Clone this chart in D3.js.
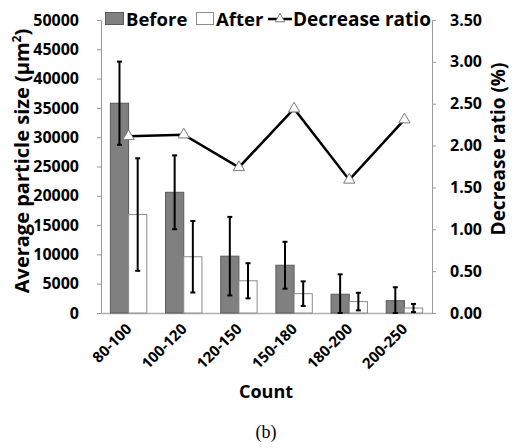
<!DOCTYPE html>
<html>
<head>
<meta charset="utf-8">
<script src="https://cdn.jsdelivr.net/npm/d3@7"></script>
<style>
  body { margin: 0; background: #fff; }
  svg text { font-family: "Open Sans", Lato, sans-serif; font-weight: 700; fill: #000; }
</style>
</head>
<body>
<div id="chart"></div>
<script>
var categories = ["80-100", "100-120", "120-150", "150-180", "180-200", "200-250"];
var before = [35800, 20600, 9700, 8150, 3200, 2100];
var beforeErr = [7100, 6300, 6700, 4000, 3400, 2300];
var after = [16800, 9600, 5500, 3300, 1950, 850];
var afterErr = [9600, 6100, 3000, 2100, 1500, 700];
var ratio = [2.11, 2.13, 1.74, 2.44, 1.59, 2.31];
var leftTicks = [0, 5000, 10000, 15000, 20000, 25000, 30000, 35000, 40000, 45000, 50000];
var rightTicks = [0, 0.5, 1, 1.5, 2, 2.5, 3, 3.5];

var width = 528, height = 448;
var margin = {top: 20, right: 96, bottom: 135, left: 101};
var chartWidth = 432 - margin.left;
var chartHeight = 313 - margin.top;

var svg = d3.select('#chart').append('svg')
    .attr('width', width)
    .attr('height', height);

var g = svg.append('g')
    .attr('transform', `translate(${margin.left}, ${margin.top})`);

var xScale = d3.scaleBand().domain(categories).range([0, chartWidth]).paddingInner(0.34).paddingOuter(0.17);
var yScale = d3.scaleLinear().domain([0, 50000]).range([chartHeight, 0]);
var yRight = d3.scaleLinear().domain([0, 3.5]).range([chartHeight, 0]);
var bw = xScale.bandwidth() / 2;

// axes
var yAxis = d3.axisLeft(yScale).tickValues(leftTicks).tickSize(4).tickPadding(20).tickFormat(d3.format('d'));
var yAxisR = d3.axisRight(yRight).tickValues(rightTicks).tickSize(4).tickPadding(14).tickFormat(d3.format('.2f'));

function styleAxis(sel) {
  sel.attr('font-family', null);
  sel.select('.domain').attr('stroke', '#9a9a9a');
  sel.selectAll('.tick line').attr('stroke', '#9a9a9a');
  sel.selectAll('.tick text').style('font-size', '16px');
}

g.append('g').attr('class', 'y axis').call(yAxis).call(styleAxis)
  .selectAll('.tick text').attr('x', -22);
g.append('g').attr('class', 'y axis right').attr('transform', `translate(${chartWidth},0)`).call(yAxisR).call(styleAxis);

g.append('line')
  .attr('x1', 0).attr('x2', chartWidth)
  .attr('y1', chartHeight + 0.5).attr('y2', chartHeight + 0.5)
  .attr('stroke', '#b0b0b0').attr('stroke-width', 1.5);

// bars
g.selectAll('rect.before')
  .data(before)
  .enter().append('rect')
  .attr('class', 'before')
  .attr('x', function(d, i) { return xScale(categories[i]); })
  .attr('y', function(d) { return yScale(d); })
  .attr('width', bw)
  .attr('height', function(d) { return chartHeight - yScale(d); })
  .attr('fill', '#808080')
  .attr('stroke', '#5a5a5a')
  .attr('stroke-width', 1);

g.selectAll('rect.after')
  .data(after)
  .enter().append('rect')
  .attr('class', 'after')
  .attr('x', function(d, i) { return xScale(categories[i]) + bw; })
  .attr('y', function(d) { return yScale(d); })
  .attr('width', bw)
  .attr('height', function(d) { return chartHeight - yScale(d); })
  .attr('fill', '#fff')
  .attr('stroke', '#8c8c8c')
  .attr('stroke-width', 1);

// error bars
function errorBars(vals, errs, offset) {
  var eg = g.append('g');
  vals.forEach(function(v, i) {
    var cx = xScale(categories[i]) + offset;
    var top = yScale(v + errs[i]);
    var bot = yScale(Math.max(0, v - errs[i]));
    eg.append('line').attr('x1', cx).attr('x2', cx).attr('y1', top).attr('y2', bot)
      .attr('stroke', '#000').attr('stroke-width', 2);
    [top, bot].forEach(function(y) {
      eg.append('line').attr('x1', cx - 2.5).attr('x2', cx + 2.5).attr('y1', y).attr('y2', y)
        .attr('stroke', '#000').attr('stroke-width', 2);
    });
  });
}
errorBars(before, beforeErr, bw / 2);
errorBars(after, afterErr, bw * 1.5);

// ratio line
var line = d3.line()
  .x(function(d, i) { return xScale(categories[i]) + bw; })
  .y(function(d) { return yRight(d); });

g.append('path')
  .datum(ratio)
  .attr('d', line)
  .attr('fill', 'none')
  .attr('stroke', '#000')
  .attr('stroke-width', 2.5);

var tri = d3.symbol().type(d3.symbolTriangle).size(55);
g.selectAll('path.marker')
  .data(ratio)
  .enter().append('path')
  .attr('class', 'marker')
  .attr('d', tri)
  .attr('transform', function(d, i) { return `translate(${xScale(categories[i]) + bw},${yRight(d)})`; })
  .attr('fill', '#fff')
  .attr('stroke', '#7a7a7a')
  .attr('stroke-width', 1);

// x tick labels
g.selectAll('text.xlabel')
  .data(categories)
  .enter().append('text')
  .attr('class', 'xlabel')
  .attr('text-anchor', 'end')
  .style('font-size', '15px')
  .attr('transform', function(d) {
    return `translate(${xScale(d) + bw + 4},${chartHeight + 17}) rotate(-45)`;
  })
  .text(function(d) { return d; });

// titles
svg.append('text')
  .attr('transform', 'translate(29,161) rotate(-90)')
  .attr('text-anchor', 'middle')
  .style('font-size', '20px')
  .html('Average particle size (μm<tspan dy="-8" font-size="12px">2</tspan><tspan dy="8">)</tspan>');

svg.append('text')
  .attr('transform', 'translate(505,149) rotate(-90)')
  .attr('text-anchor', 'middle')
  .style('font-size', '19px')
  .text('Decrease ratio (%)');

svg.append('text')
  .attr('x', 266).attr('y', 398)
  .attr('text-anchor', 'middle')
  .style('font-size', '18px')
  .text('Count');

svg.append('text')
  .attr('x', 266).attr('y', 438)
  .attr('text-anchor', 'middle')
  .style('font-family', '"Liberation Serif", serif')
  .style('font-weight', 'normal')
  .style('font-size', '18px')
  .text('(b)');

// legend
var legend = svg.append('g');
legend.append('rect').attr('x', 105.5).attr('y', 12.5).attr('width', 18).attr('height', 12)
  .attr('fill', '#808080').attr('stroke', '#5a5a5a');
legend.append('text').attr('x', 126).attr('y', 25.5).style('font-size', '18.5px').text('Before');
legend.append('rect').attr('x', 196.5).attr('y', 12.5).attr('width', 17).attr('height', 12)
  .attr('fill', '#fff').attr('stroke', '#8c8c8c');
legend.append('text').attr('x', 216).attr('y', 25.5).style('font-size', '18.5px').text('After');
legend.append('line').attr('x1', 268).attr('x2', 292).attr('y1', 19).attr('y2', 19)
  .attr('stroke', '#000').attr('stroke-width', 2.5);
legend.append('path').attr('d', d3.symbol().type(d3.symbolTriangle).size(40))
  .attr('transform', 'translate(280,19)').attr('fill', '#fff').attr('stroke', '#7a7a7a');
legend.append('text').attr('x', 293).attr('y', 25.5).style('font-size', '19px').text('Decrease ratio');
</script>
</body>
</html>
